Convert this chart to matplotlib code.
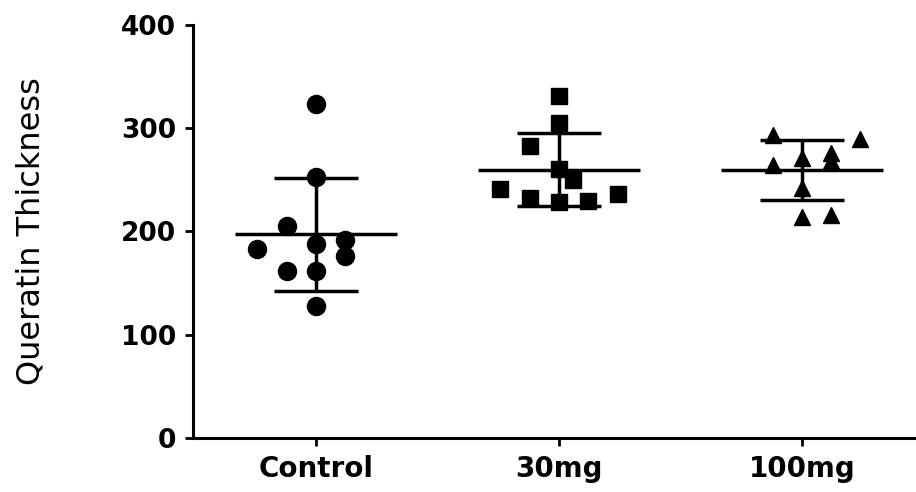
import numpy as np
import matplotlib
matplotlib.use("Agg")
import matplotlib.pyplot as plt

categories = ["Control", "30mg", "100mg"]
control = [323, 253, 205, 183, 188, 192, 176, 162, 162, 128]
mg30 = [331, 305, 283, 261, 250, 241, 236, 232, 229, 230]
mg100 = [293, 290, 271, 276, 268, 264, 242, 214, 216]
control_jit = [0, 0, -0.12, -0.24, 0, 0.12, 0.12, -0.12, 0, 0]
mg30_jit = [0, 0, -0.12, 0, 0.06, -0.24, 0.245, -0.12, 0, 0.12]
mg100_jit = [-0.12, 0.24, 0, 0.12, 0.12, -0.12, 0, 0, 0.12]
yticks = [0, 100, 200, 300, 400]

groups = [control, mg30, mg100]
jitters = [control_jit, mg30_jit, mg100_jit]
markers = ["o", "s", "^"]
msizes = [13, 11.5, 11.5]

plt.rcParams['font.family'] = ['DejaVu Sans']

fig = plt.figure(figsize=(9.16, 4.92), dpi=100)
ax = fig.add_axes([0.2107, 0.1098, 0.7893, 0.8394])

for i, (vals, jit, m, ms) in enumerate(zip(groups, jitters, markers, msizes)):
    v = np.array(vals, dtype=float)
    x = i + np.array(jit)
    ax.plot(x, v, linestyle="none", marker=m, markersize=ms, color="black", zorder=3)
    mean = v.mean()
    sd = v.std(ddof=1)
    ax.hlines(mean, i - 0.333, i + 0.333, color="black", lw=2.5, zorder=4)
    ax.hlines([mean - sd, mean + sd], i - 0.172, i + 0.172, color="black", lw=2.5, zorder=4)
    ax.vlines(i, mean - sd, mean + sd, color="black", lw=2.5, zorder=4)

ax.set_xlim(-0.505, 2.47)
ax.set_ylim(0, 400)
ax.set_yticks(yticks)
ax.set_yticklabels([str(t) for t in yticks], fontsize=19, fontweight="bold")
ax.set_xticks(range(len(categories)))
ax.set_xticklabels(categories, fontsize=20, fontweight="bold")
ax.set_ylabel("Queratin Thickness", fontsize=23)
ax.yaxis.set_label_coords(-0.202, 0.5)

for s in ["top", "right"]:
    ax.spines[s].set_visible(False)
for s in ["left", "bottom"]:
    ax.spines[s].set_linewidth(2.2)
ax.tick_params(axis="both", width=2, length=6, colors="black")
ax.tick_params(axis="y", pad=6)
ax.tick_params(axis="x", pad=6)

fig.savefig("out.png", dpi=100)
